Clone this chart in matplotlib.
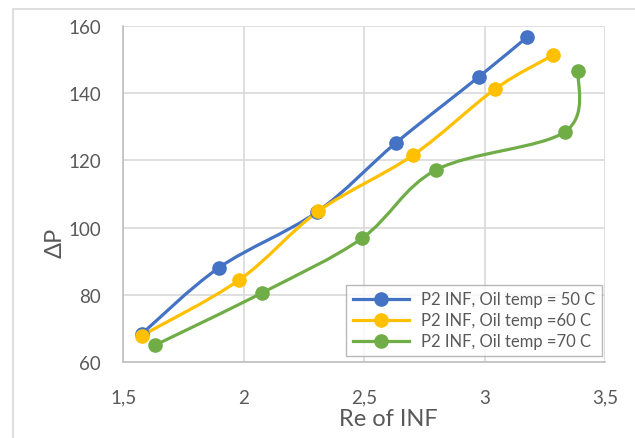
import matplotlib
matplotlib.use('Agg')
import matplotlib.pyplot as plt
import matplotlib.patches as mpatches
from matplotlib.path import Path
from matplotlib.lines import Line2D

plt.rcParams['font.family'] = ['Lato', 'DejaVu Sans']

# Re of INF (x) and ΔP (y) per oil temperature
re_50 = [1.576, 1.897, 2.303, 2.632, 2.978, 3.178]
dp_50 = [68.4, 88.1, 104.6, 125.2, 144.9, 156.7]
re_60 = [1.576, 1.982, 2.310, 2.704, 3.044, 3.286]
dp_60 = [67.9, 84.5, 104.9, 121.6, 141.2, 151.3]
re_70 = [1.632, 2.075, 2.490, 2.800, 3.334, 3.389]
dp_70 = [65.1, 80.6, 96.8, 117.2, 128.5, 146.6]

labels = ['P2 INF, Oil temp = 50 C', 'P2 INF, Oil temp =60 C', 'P2 INF, Oil temp =70 C']
colors = ['#4472C4', '#FFC000', '#70AD47']

xticks = [1.5, 2, 2.5, 3, 3.5]
xtick_labels = ['1,5', '2', '2,5', '3', '3,5']
yticks = [60, 80, 100, 120, 140, 160]


def smooth_path(xs, ys):
    # Excel-style smoothed line: cubic Bezier through the points
    pts = list(zip(xs, ys))
    n = len(pts)
    verts = [pts[0]]
    codes = [Path.MOVETO]
    for i in range(n - 1):
        p0 = pts[i - 1] if i > 0 else pts[i]
        p1 = pts[i]
        p2 = pts[i + 1]
        p3 = pts[i + 2] if i + 2 < n else pts[i + 1]
        c1 = (p1[0] + (p2[0] - p0[0]) / 6, p1[1] + (p2[1] - p0[1]) / 6)
        c2 = (p2[0] - (p3[0] - p1[0]) / 6, p2[1] - (p3[1] - p1[1]) / 6)
        verts += [c1, c2, p2]
        codes += [Path.CURVE4] * 3
    return Path(verts, codes)


fig = plt.figure(figsize=(6.35, 4.39), dpi=100)
# chart area border
fig.patches.append(mpatches.Rectangle((13/635, -0.1), 1.2, 1 - 10/439 + 0.1,
                                      transform=fig.transFigure, fill=False,
                                      edgecolor='#d9d9d9', linewidth=1.2))

ax = fig.add_axes([123.3/635, 1 - 363.3/439, (605 - 123.3)/635, (363.3 - 26.7)/439])
ax.set_xlim(1.5, 3.5)
ax.set_ylim(60, 160)
ax.set_xticks(xticks)
ax.set_xticklabels(xtick_labels)
ax.set_yticks(yticks)
ax.grid(True, color='#d9d9d9', linewidth=1.2)
ax.set_axisbelow(True)
for s in ['top', 'right']:
    ax.spines[s].set_visible(False)
for s in ['left', 'bottom']:
    ax.spines[s].set_color('#bfbfbf')
    ax.spines[s].set_linewidth(1.2)
ax.tick_params(length=0, labelsize=13.5, labelcolor='#595959')
ax.tick_params(axis='x', pad=19)
ax.tick_params(axis='y', pad=16)

series = [(re_50, dp_50), (re_60, dp_60), (re_70, dp_70)]
handles = []
for (xs, ys), c, lab in zip(series, colors, labels):
    ax.add_patch(mpatches.PathPatch(smooth_path(xs, ys), facecolor='none',
                                    edgecolor=c, linewidth=2.3, zorder=3))
    ax.plot(xs, ys, linestyle='none', marker='o', markersize=9.5, color=c, zorder=4)
    handles.append(Line2D([], [], color=c, linewidth=2.3, marker='o', markersize=9.5))

leg = ax.legend(handles, labels, loc='lower right',
                bbox_to_anchor=(602/635, 1 - 357/439), bbox_transform=fig.transFigure,
                fancybox=False, edgecolor='#a6a6a6', fontsize=12, handlelength=3.4,
                labelspacing=0.3, borderpad=0.4, handletextpad=0.7, borderaxespad=0)
leg.get_frame().set_linewidth(1.0)
for t in leg.get_texts():
    t.set_color('#595959')

fig.text(388/635, 1 - 420/439, 'Re of INF', ha='center', va='center',
         fontsize=17, color='#595959')
fig.text(55/635, 1 - 243/439, 'ΔP', ha='center', va='center', rotation=90,
         fontsize=17, color='#595959')

fig.savefig('out.png', dpi=100, facecolor='white')
